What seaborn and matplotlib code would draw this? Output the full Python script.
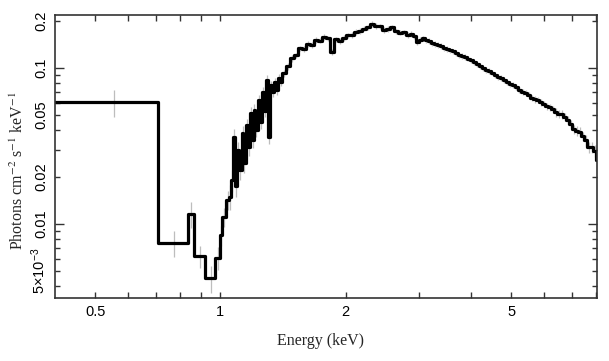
import numpy as np
import pandas as pd
import matplotlib
matplotlib.use("Agg")
import matplotlib.pyplot as plt
import seaborn as sns
from matplotlib.ticker import FixedLocator, FixedFormatter

# bin edges (keV)
edges = [0.40, 0.709, 0.837, 0.866, 0.920, 0.973, 0.995, 1.011, 1.034, 1.051,
         1.063, 1.075, 1.087, 1.099, 1.111, 1.124, 1.136, 1.149, 1.162, 1.175,
         1.188, 1.201, 1.214, 1.228, 1.242, 1.256, 1.270, 1.284, 1.298, 1.313,
         1.327, 1.342, 1.357, 1.372, 1.388, 1.403,
         1.435, 1.467, 1.500, 1.533, 1.568, 1.603, 1.639, 1.676, 1.713, 1.752,
         1.791, 1.831, 1.872, 1.914, 1.957, 2.001, 2.046, 2.092, 2.139, 2.187,
         2.236, 2.286, 2.337, 2.390, 2.443, 2.498, 2.554, 2.612, 2.670, 2.730,
         2.791, 2.854,
         2.902, 2.951, 3.000, 3.051, 3.102, 3.154, 3.207, 3.261, 3.316, 3.371,
         3.428, 3.485, 3.544, 3.603, 3.664, 3.725, 3.788, 3.851, 3.916, 3.982,
         4.049, 4.117, 4.186, 4.256, 4.327, 4.400, 4.474, 4.549, 4.626, 4.703,
         4.782, 4.862, 4.944, 5.027, 5.111, 5.197, 5.284, 5.373, 5.463, 5.555,
         5.648, 5.743, 5.839, 5.937, 6.037, 6.138, 6.241, 6.346, 6.452, 6.561,
         6.671, 6.783, 6.897, 7.013, 7.130, 7.250, 7.372, 7.496, 7.622, 7.750,
         7.880, 8.012, 8.2]

# photons cm^-2 s^-1 keV^-1 per bin
flux = [0.0605, 0.00755, 0.0116, 0.00624, 0.00451, 0.0061, 0.0085, 0.0111, 0.0143,
        0.0150, 0.0191, 0.0361, 0.0175, 0.0298, 0.0222, 0.0383, 0.0245, 0.0431, 0.0310,
        0.0515, 0.0345, 0.0538, 0.0400, 0.0624, 0.0450, 0.0702, 0.0530, 0.0838, 0.0361,
        0.0778, 0.0700, 0.0813, 0.0720, 0.0863, 0.0820,
        0.0925, 0.103, 0.116, 0.121, 0.134, 0.133, 0.143, 0.141, 0.152, 0.150,
        0.158, 0.155, 0.127, 0.153, 0.149, 0.156, 0.162, 0.163, 0.171, 0.173,
        0.179, 0.183, 0.192, 0.186, 0.185, 0.176, 0.178, 0.183, 0.172, 0.169,
        0.170, 0.163,
        0.166, 0.161, 0.146, 0.152, 0.155, 0.151, 0.149, 0.145, 0.143, 0.141,
        0.139, 0.135, 0.133, 0.130, 0.128, 0.125, 0.121, 0.120, 0.118, 0.115,
        0.112, 0.109, 0.106, 0.103, 0.0995, 0.0975, 0.0960, 0.0935, 0.0905, 0.0880,
        0.0865, 0.0840, 0.0810, 0.0790, 0.0780, 0.0755, 0.0725, 0.0705, 0.0695, 0.0675,
        0.0645, 0.0630, 0.0625, 0.0605, 0.0590, 0.0570, 0.0560, 0.0545, 0.0520, 0.0510,
        0.0505, 0.0485, 0.0465, 0.0440, 0.0405, 0.0395, 0.0390, 0.0365, 0.0345, 0.0310,
        0.0310, 0.0295, 0.0257]

# fractional 1-sigma errors
rel_err = [0.20, 0.19, 0.19, 0.16, 0.20, 0.17, 0.15, 0.14, 0.14,
           0.18, 0.16, 0.12, 0.15, 0.12, 0.14, 0.11, 0.13, 0.10, 0.12,
           0.09, 0.11, 0.09, 0.10, 0.08, 0.09, 0.07, 0.08, 0.07, 0.10,
           0.07, 0.07, 0.06, 0.07, 0.06, 0.06,
           0.05, 0.05, 0.05, 0.04, 0.04, 0.04, 0.04, 0.04, 0.04, 0.04,
           0.04, 0.04, 0.05, 0.04, 0.04, 0.04, 0.04, 0.04, 0.04, 0.04,
           0.04, 0.04, 0.04, 0.04, 0.04, 0.04, 0.04, 0.04, 0.04, 0.04,
           0.04, 0.04,
           0.04, 0.04, 0.04, 0.04, 0.04, 0.04, 0.04, 0.04, 0.04, 0.04,
           0.04, 0.04, 0.04, 0.04, 0.04, 0.04, 0.04, 0.04, 0.04, 0.04,
           0.04, 0.04, 0.04, 0.04, 0.04, 0.04, 0.04, 0.04, 0.04, 0.04,
           0.04, 0.04, 0.04, 0.04, 0.04, 0.04, 0.04, 0.04, 0.04, 0.04,
           0.05, 0.05, 0.05, 0.05, 0.05, 0.05, 0.05, 0.05, 0.06, 0.06,
           0.06, 0.06, 0.06, 0.06, 0.07, 0.07, 0.07, 0.07, 0.08, 0.08,
           0.08, 0.09, 0.09]

x_major = [0.5, 1, 2, 5]
x_major_labels = ["0.5", "1", "2", "5"]
x_minor = [0.6, 0.7, 0.8, 0.9, 3, 4, 6, 7, 8]
y_major = [0.01, 0.1]
y_major_labels = ["0.01", "0.1"]
y_minor = [0.004, 0.005, 0.006, 0.007, 0.008, 0.009, 0.02, 0.03, 0.04,
           0.05, 0.06, 0.07, 0.08, 0.09, 0.2]
y_minor_labels = ["", r"5$\times$10$^{-3}$", "", "", "", "", "0.02", "", "",
                  "0.05", "", "", "", "", "0.2"]

sns.set_style("ticks")
plt.rcParams['font.family'] = ['Liberation Sans', 'DejaVu Sans']
plt.rcParams['mathtext.fontset'] = 'custom'
plt.rcParams['mathtext.rm'] = 'Liberation Sans'
plt.rcParams['mathtext.it'] = 'Liberation Sans:italic'

edges = np.array(edges)
flux = np.array(flux)
rel_err = np.array(rel_err)
centers = (edges[:-1] + edges[1:]) / 2
step_df = pd.DataFrame({'Energy': edges, 'Flux': np.append(flux, flux[-1])})

fig, ax = plt.subplots(figsize=(6.09, 3.61), dpi=100)
fig.subplots_adjust(left=55 / 609, right=597 / 609, top=1 - 15 / 361, bottom=1 - 298 / 361)
ax.set_xscale('log')
ax.set_yscale('log')

ax.errorbar(centers, flux, yerr=flux * rel_err, fmt='none', ecolor='#bdbdbd',
            elinewidth=0.9, zorder=1)
sns.lineplot(data=step_df, x='Energy', y='Flux', drawstyle='steps-post', color='black',
             lw=2.3, estimator=None, sort=False, ax=ax, zorder=2)

ax.set_xlim(0.4, 8.05)
ax.set_ylim(0.00336, 0.219)

ax.xaxis.set_major_locator(FixedLocator(x_major))
ax.xaxis.set_major_formatter(FixedFormatter(x_major_labels))
ax.xaxis.set_minor_locator(FixedLocator(x_minor))
ax.xaxis.set_minor_formatter(FixedFormatter([""] * len(x_minor)))
ax.yaxis.set_major_locator(FixedLocator(y_major))
ax.yaxis.set_major_formatter(FixedFormatter(y_major_labels))
ax.yaxis.set_minor_locator(FixedLocator(y_minor))
ax.yaxis.set_minor_formatter(FixedFormatter(y_minor_labels))

for side in ax.spines.values():
    side.set_linewidth(1.2)
    side.set_color('#333333')
ax.tick_params(which='both', direction='in', top=True, right=True, color='#333333',
               width=1.0, labelsize=10.5, labelcolor='black')
ax.tick_params(axis='x', which='both', length=4, pad=5)
ax.tick_params(axis='y', which='major', length=6.5, pad=5)
ax.tick_params(axis='y', which='minor', length=3.8, pad=5)
for lab in ax.get_yticklabels(which='both'):
    lab.set_rotation(90)
    lab.set_va('center')

ax.set_xlabel('Energy (keV)', fontsize=11.5, family='Liberation Serif')
ax.set_ylabel(r'Photons cm$^{-2}$ s$^{-1}$ keV$^{-1}$', fontsize=11.5,
              family='Liberation Serif', math_fontfamily='stix')
ax.xaxis.set_label_coords(0.49, -0.125)
ax.yaxis.set_label_coords(-0.052, 0.449)

fig.savefig('out.png', dpi=100)
